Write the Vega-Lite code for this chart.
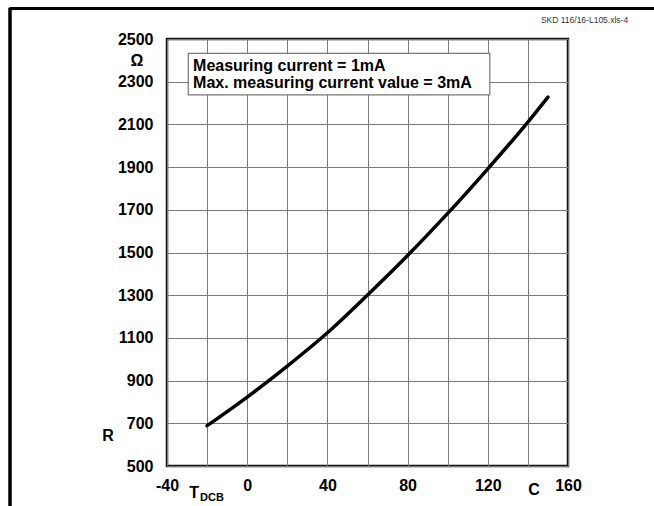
{
  "$schema": "https://vega.github.io/schema/vega-lite/v6.json",
  "width": 401,
  "height": 427,
  "autosize": "none",
  "padding": {"left": 167, "top": 39, "right": 86, "bottom": 40},
  "background": "white",
  "config": {
    "font": "Liberation Sans",
    "view": {"stroke": "#111", "strokeWidth": 2.5}
  },
  "datasets": {
    "curve": [
      {"T": -20, "R": 689},
      {"T": 0, "R": 823},
      {"T": 20, "R": 968},
      {"T": 40, "R": 1124},
      {"T": 60, "R": 1301},
      {"T": 80, "R": 1486},
      {"T": 100, "R": 1683},
      {"T": 120, "R": 1892},
      {"T": 140, "R": 2111},
      {"T": 150, "R": 2228}
    ],
    "notes": [
      {"T": -27, "R": 2373, "text": "Measuring current = 1mA"},
      {"T": -27, "R": 2292, "text": "Max. measuring current value = 3mA"}
    ],
    "box": [{"T": -29.4, "T2": 121, "R": 2238, "R2": 2433}],
    "titles": [
      {"T": -55, "R": 2397, "text": "Ω"},
      {"T": -69.4, "R": 640, "text": "R"},
      {"T": -26.5, "R": 373, "text": "T"},
      {"T": 143, "R": 388, "text": "C"}
    ],
    "sub": [{"T": -23.5, "R": 350, "text": "DCB"}],
    "header": [{"T": 190, "R": 2589, "text": "SKD 116/16-L105.xls-4"}],
    "frameTop": [{"T": -118.5, "T2": 210, "R": 2643}],
    "frameLeft": [{"T": -118.3, "R": 300, "R2": 2646}]
  },
  "layer": [
    {
      "data": {"name": "curve"},
      "mark": {"type": "line", "color": "#000", "strokeWidth": 3.5, "interpolate": "monotone", "strokeCap": "round"},
      "encoding": {
        "x": {
          "field": "T", "type": "quantitative",
          "scale": {"domain": [-40, 160], "nice": false, "zero": false},
          "axis": {
            "values": [-40, -20, 0, 20, 40, 60, 80, 100, 120, 140, 160],
            "labelExpr": "datum.value % 40 == 0 ? replace(datum.label, '−', '-') : ''",
            "title": null, "domain": false, "ticks": false, "tickSize": 0,
            "grid": true, "gridColor": "#7a7a7a", "gridWidth": 1, "gridOpacity": 1,
            "labelFont": "Liberation Sans", "labelFontSize": 16, "labelFontWeight": "bold",
            "labelColor": "#000", "labelPadding": 11, "labelOverlap": false, "labelFlush": false
          }
        },
        "y": {
          "field": "R", "type": "quantitative",
          "scale": {"domain": [500, 2500], "nice": false, "zero": false},
          "axis": {
            "values": [500, 600, 700, 800, 900, 1000, 1100, 1200, 1300, 1400, 1500, 1600, 1700, 1800, 1900, 2000, 2100, 2200, 2300, 2400, 2500],
            "labelExpr": "(datum.value - 500) % 200 == 0 ? datum.label : ''",
            "format": "d",
            "title": null, "domain": false, "ticks": false, "tickSize": 0,
            "grid": true, "gridColor": "#7a7a7a", "gridWidth": 1, "gridOpacity": 1,
            "labelFont": "Liberation Sans", "labelFontSize": 16, "labelFontWeight": "bold",
            "labelColor": "#000", "labelPadding": 14, "labelOverlap": false, "labelFlush": false
          }
        }
      }
    },
    {
      "data": {"name": "box"},
      "mark": {"type": "rect", "fill": "white", "stroke": "#777", "strokeWidth": 1.2},
      "encoding": {
        "x": {"field": "T", "type": "quantitative"},
        "x2": {"field": "T2"},
        "y": {"field": "R", "type": "quantitative"},
        "y2": {"field": "R2"}
      }
    },
    {
      "data": {"name": "notes"},
      "mark": {"type": "text", "align": "left", "baseline": "middle", "fontSize": 16, "fontWeight": "bold", "color": "#000"},
      "encoding": {
        "x": {"field": "T", "type": "quantitative"},
        "y": {"field": "R", "type": "quantitative"},
        "text": {"field": "text"}
      }
    },
    {
      "data": {"name": "titles"},
      "mark": {"type": "text", "align": "center", "baseline": "middle", "fontSize": 16, "fontWeight": "bold", "color": "#000", "clip": false},
      "encoding": {
        "x": {"field": "T", "type": "quantitative"},
        "y": {"field": "R", "type": "quantitative"},
        "text": {"field": "text"}
      }
    },
    {
      "data": {"name": "sub"},
      "mark": {"type": "text", "align": "left", "baseline": "middle", "fontSize": 11, "fontWeight": "bold", "color": "#000", "clip": false},
      "encoding": {
        "x": {"field": "T", "type": "quantitative"},
        "y": {"field": "R", "type": "quantitative"},
        "text": {"field": "text"}
      }
    },
    {
      "data": {"name": "header"},
      "mark": {"type": "text", "align": "right", "baseline": "middle", "fontSize": 8.5, "color": "#333", "clip": false},
      "encoding": {
        "x": {"field": "T", "type": "quantitative"},
        "y": {"field": "R", "type": "quantitative"},
        "text": {"field": "text"}
      }
    },
    {
      "data": {"name": "frameTop"},
      "mark": {"type": "rule", "color": "#000", "strokeWidth": 3, "clip": false},
      "encoding": {
        "x": {"field": "T", "type": "quantitative"},
        "x2": {"field": "T2"},
        "y": {"field": "R", "type": "quantitative"}
      }
    },
    {
      "data": {"name": "frameLeft"},
      "mark": {"type": "rule", "color": "#000", "strokeWidth": 3.5, "clip": false},
      "encoding": {
        "x": {"field": "T", "type": "quantitative"},
        "y": {"field": "R", "type": "quantitative"},
        "y2": {"field": "R2"}
      }
    }
  ]
}
